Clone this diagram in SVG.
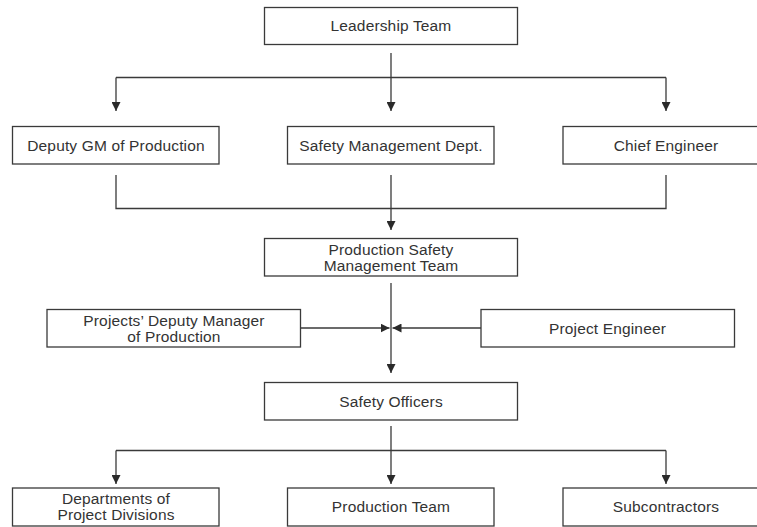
<svg xmlns="http://www.w3.org/2000/svg" width="757" height="527" viewBox="0 0 757 527">
<style>
.box{fill:#fff;stroke:#3a3a3a;stroke-width:1.3}
.lbl{font-family:"Liberation Sans",Arial,sans-serif;font-size:15.5px;fill:#333;text-anchor:middle;letter-spacing:0.15px}
.ln{fill:none;stroke:#3a3a3a;stroke-width:1.3}
</style>
<defs>
<marker id="ah" markerUnits="userSpaceOnUse" markerWidth="9" markerHeight="9" refX="8" refY="4" orient="auto" viewBox="0 0 8 8">
<path d="M0,0 L8,4 L0,8 z" fill="#2a2a2a"/>
</marker>
</defs>
<rect width="757" height="527" fill="#fff"/>
<g id="connectors">
<path class="ln" d="M116,77.5 H666"/>
<path class="ln" d="M391,53 V111" marker-end="url(#ah)"/>
<path class="ln" d="M116,77.5 V111" marker-end="url(#ah)"/>
<path class="ln" d="M666,77.5 V111" marker-end="url(#ah)"/>
<path class="ln" d="M116,175 V208.5 H666 V175"/>
<path class="ln" d="M391,175 V230" marker-end="url(#ah)"/>
<path class="ln" d="M391,283 V373" marker-end="url(#ah)"/>
<path class="ln" d="M301,328 H389.5" marker-end="url(#ah)"/>
<path class="ln" d="M481,328 H392.5" marker-end="url(#ah)"/>
<path class="ln" d="M116,450.5 H666"/>
<path class="ln" d="M391,426 V484" marker-end="url(#ah)"/>
<path class="ln" d="M116,450.5 V484" marker-end="url(#ah)"/>
<path class="ln" d="M666,450.5 V484" marker-end="url(#ah)"/>
</g>
<g id="leadership">
<rect class="box" x="264.5" y="7.5" width="253" height="37"/>
<text class="lbl" x="391" y="31">Leadership Team</text>
</g>
<g id="deputy-gm">
<rect class="box" x="12.5" y="126.5" width="206.5" height="37.5"/>
<text class="lbl" x="116" y="150.5">Deputy GM of Production</text>
</g>
<g id="safety-dept">
<rect class="box" x="287.5" y="126.5" width="206.5" height="37.5"/>
<text class="lbl" x="391" y="150.5">Safety Management Dept.</text>
</g>
<g id="chief-engineer">
<rect class="box" x="563" y="126.5" width="206.5" height="37.5"/>
<text class="lbl" x="666" y="150.5">Chief Engineer</text>
</g>
<g id="psmt">
<rect class="box" x="264.5" y="238.5" width="253" height="37.5"/>
<text class="lbl" x="391" y="254.5">Production Safety</text>
<text class="lbl" x="391" y="270.5">Management Team</text>
</g>
<g id="projects-deputy">
<rect class="box" x="47" y="309.5" width="253.5" height="37.5"/>
<text class="lbl" x="174" y="325.5">Projects’ Deputy Manager</text>
<text class="lbl" x="174" y="341.5">of Production</text>
</g>
<g id="project-engineer">
<rect class="box" x="481" y="309.5" width="253.5" height="37.5"/>
<text class="lbl" x="607.5" y="333.5">Project Engineer</text>
</g>
<g id="safety-officers">
<rect class="box" x="264.5" y="382.5" width="253" height="37.5"/>
<text class="lbl" x="391" y="406.5">Safety Officers</text>
</g>
<g id="departments">
<rect class="box" x="12.5" y="488" width="206.5" height="38"/>
<text class="lbl" x="116" y="503.5">Departments of</text>
<text class="lbl" x="116" y="519.5">Project Divisions</text>
</g>
<g id="production-team">
<rect class="box" x="287.5" y="488" width="206.5" height="38"/>
<text class="lbl" x="391" y="512">Production Team</text>
</g>
<g id="subcontractors">
<rect class="box" x="563" y="488" width="206.5" height="38"/>
<text class="lbl" x="666" y="512">Subcontractors</text>
</g>
</svg>
